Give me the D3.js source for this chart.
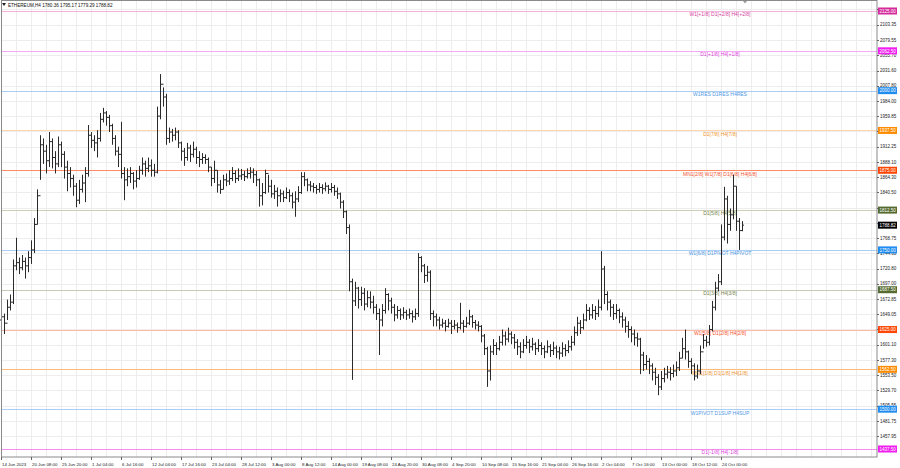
<!DOCTYPE html>
<html><head><meta charset="utf-8">
<script src="https://cdn.jsdelivr.net/npm/d3@7"></script>
<style>body{margin:0;background:#fff;} svg{display:block;font-family:"Liberation Sans",Arial,sans-serif;}</style>
</head><body><svg id="c" width="900" height="468"></svg>
<script>
const symbolTitle = "ETHEREUM,H4  1780.36 1795.17 1779.29 1788.82";
const closes = [
1645,1635,1660,1668,1725,1730,1722,1732,1725,1738,
1750,1790,1835,1915,1905,1890,1920,1895,1885,1915,
1900,1880,1870,1862,1850,1828,1845,1855,1870,1930,
1922,1918,1925,1955,1965,1958,1945,1925,1905,1900,
1870,1860,1865,1870,1858,1862,1875,1885,1878,1882,
1875,1872,1960,2010,1990,1925,1935,1930,1935,1918,
1905,1895,1910,1900,1908,1895,1892,1895,1892,1880,
1862,1875,1852,1845,1860,1858,1862,1870,1862,1866,
1868,1865,1870,1872,1868,1860,1835,1840,1870,1850,
1838,1842,1835,1838,1832,1840,1835,1825,1830,1840,
1865,1860,1852,1850,1848,1845,1848,1846,1850,1845,
1848,1842,1838,1825,1810,1785,1700,1670,1690,1672,
1682,1665,1675,1668,1660,1650,1640,1655,1680,1670,
1660,1648,1655,1648,1652,1648,1650,1645,1650,1738,
1725,1710,1715,1650,1645,1640,1632,1635,1630,1635,
1630,1632,1628,1635,1630,1635,1645,1636,1632,1630,
1615,1595,1560,1590,1600,1595,1605,1615,1610,1618,
1612,1605,1598,1590,1600,1605,1598,1602,1595,1600,
1595,1590,1598,1592,1596,1590,1588,1595,1592,1598,
1605,1620,1635,1628,1640,1655,1648,1655,1650,1660,
1720,1680,1668,1660,1650,1655,1645,1640,1630,1625,
1618,1612,1610,1585,1570,1575,1568,1558,1550,1535,
1548,1555,1558,1556,1560,1565,1580,1595,1590,1575,
1568,1552,1560,1590,1608,1605,1625,1660,1690,1700,
1770,1830,1790,1805,1850,1795,1780.36,1788.82];
const highs = [
1665,1650,1672,1680,1735,1769,1738,1742,1738,1748,
1765,1800,1845,1930,1925,1915,1935,1925,1905,1928,
1920,1905,1890,1880,1868,1855,1860,1868,1880,1946,
1935,1930,1938,1965,1973,1968,1962,1948,1930,1912,
1951,1880,1878,1880,1872,1875,1882,1895,1890,1895,
1892,1885,1975,2026,2005,1995,1942,1940,1942,1938,
1920,1910,1918,1915,1920,1912,1905,1902,1900,1895,
1880,1890,1875,1860,1868,1870,1875,1880,1875,1878,
1877,1874,1878,1880,1878,1874,1862,1855,1876,1868,
1860,1852,1848,1845,1843,1848,1845,1840,1842,1850,
1872,1872,1862,1858,1855,1852,1855,1853,1856,1852,
1855,1852,1848,1840,1828,1812,1790,1705,1700,1692,
1692,1690,1686,1685,1678,1665,1658,1665,1690,1682,
1675,1665,1662,1658,1660,1656,1658,1655,1658,1745,
1740,1728,1725,1718,1655,1650,1645,1642,1640,1642,
1640,1640,1636,1667,1640,1645,1656,1648,1640,1638,
1632,1618,1598,1600,1610,1605,1615,1625,1622,1628,
1622,1618,1610,1605,1610,1615,1610,1612,1605,1610,
1605,1600,1608,1602,1606,1600,1598,1605,1602,1608,
1615,1630,1645,1640,1650,1665,1660,1665,1662,1672,
1748,1725,1685,1672,1665,1665,1658,1652,1645,1638,
1630,1625,1620,1612,1590,1585,1580,1572,1565,1555,
1560,1565,1568,1566,1570,1575,1590,1612,1625,1592,
1580,1572,1570,1600,1618,1615,1632,1670,1700,1712,
1790,1849,1835,1815,1868,1850,1800,1795.17];
const lows = [
1620,1618,1640,1655,1665,1718,1712,1718,1705,1715,
1728,1745,1790,1860,1885,1870,1880,1878,1870,1880,
1880,1862,1842,1848,1835,1817,1822,1840,1825,1865,
1910,1905,1895,1920,1950,1945,1935,1915,1898,1880,
1862,1828,1850,1855,1845,1848,1860,1868,1865,1872,
1865,1865,1870,1955,1975,1915,1918,1920,1922,1910,
1890,1882,1890,1888,1895,1885,1880,1885,1885,1872,
1850,1855,1840,1838,1845,1850,1852,1858,1855,1858,
1860,1858,1862,1862,1855,1850,1818,1820,1838,1840,
1832,1830,1818,1825,1825,1830,1825,1815,1802,1825,
1838,1850,1842,1842,1840,1838,1840,1838,1842,1838,
1840,1835,1830,1815,1800,1775,1685,1546,1662,1658,
1662,1655,1660,1658,1650,1640,1585,1630,1650,1655,
1650,1638,1642,1640,1642,1640,1642,1636,1640,1645,
1715,1698,1700,1640,1630,1630,1625,1628,1622,1628,
1618,1625,1620,1625,1620,1628,1632,1628,1625,1622,
1605,1585,1535,1545,1585,1585,1592,1600,1600,1605,
1602,1595,1585,1580,1588,1595,1588,1592,1585,1590,
1585,1580,1588,1582,1585,1580,1578,1582,1583,1588,
1592,1600,1615,1618,1625,1638,1640,1642,1640,1645,
1655,1665,1655,1645,1640,1642,1635,1628,1620,1612,
1605,1600,1598,1555,1560,1562,1555,1545,1538,1522,
1530,1542,1548,1545,1550,1552,1560,1580,1578,1565,
1555,1545,1548,1555,1595,1598,1600,1622,1655,1685,
1695,1765,1760,1780,1798,1780,1750,1779.29];
const firstOpen = 1640;
const lastOpen = 1780.36;

const dateLabels = ["14 Jun 2023","20 Jun 08:00","25 Jun 20:00","1 Jul 04:00","6 Jul 16:00","12 Jul 04:00","17 Jul 16:00","23 Jul 04:00","28 Jul 12:00","3 Aug 00:00","8 Aug 12:00","14 Aug 00:00","19 Aug 08:00","24 Aug 20:00","30 Aug 08:00","4 Sep 20:00","10 Sep 08:00","15 Sep 16:00","21 Sep 04:00","26 Sep 16:00","2 Oct 04:00","7 Oct 16:00","13 Oct 00:00","18 Oct 12:00","24 Oct 00:00"];
const dateTickIdx = [0,10,20,30,40,50,60,70,80,90,100,110,120,130,140,150,160,170,180,190,200,210,220,230,240];

const priceTicks = [2127.55,2103.35,2079.55,2055.70,2031.60,2007.80,1984.00,1959.85,1936.05,1912.25,1888.10,1864.30,1840.50,1816.35,1792.55,1768.75,1744.60,1720.80,1697.00,1672.85,1649.05,1625.25,1601.10,1577.30,1553.50,1529.70,1505.55,1481.75,1457.95];

const levels = [2125, 2062.5, 2000, 1937.5, 1875, 1812.5, 1750, 1687.5, 1625, 1562.5, 1500, 1437.5];
const levelNames = ["W1[+1/8] D1[+2/8] H4[+2/8]","D1[+1/8] H4[+1/8]","W1RES D1RES H4RES","D1[7/8] H4[7/8]","MN1[2/8] W1[7/8] D1[6/8] H4[6/8]","D1[5/8] H4[5/8]","W1[6/8] D1PIVOT H4PIVOT","D1[3/8] H4[3/8]","W1[5/8] D1[2/8] H4[2/8]","MN1[1/8] D1[1/8] H4[1/8]","W1PIVOT D1SUP H4SUP","D1[-1/8] H4[-1/8]"];
const levelBox = ["#d42a9c","#f01ef0","#1e8cf0","#ff8c00","#ff4500","#556b2f","#1e8cf0","#556b2f","#ff4500","#ff8c00","#1e8cf0","#f01ef0"];
const levelLine = ["#f6b2de","#f6a6f6","#a9cdf4","#ffd6ae","#ff8a66","#cdd0b6","#a9cdf4","#c9c9b9","#ffb9a8","#ffbc78","#a9cdf4","#f48cf0"];
const levelText = ["#d43f9e","#e040e0","#4f98e6","#f0922a","#f5522e","#76854c","#4f98e6","#76854c","#f5522e","#f0922a","#4f98e6","#e040e0"];
const lastPrice = 1788.82;

const svg = d3.select("#c");
const W = 900, H = 468, plotR = 877, plotB = 457;
const x = d3.scaleLinear().domain([0, 292]).range([1, 877]);
const y = d3.scaleLinear().domain([1437.5, 2125]).range([449, 11]);
const N = Math.min(closes.length, highs.length, lows.length);
const crisp = v => Math.round(v) + 0.5;
const fmt = d3.format(".2f");
const axisFont = 4.5;

svg.append("rect").attr("width", W).attr("height", H).attr("fill", "#fff");

// grid
const g = svg.append("g");
g.selectAll(".vg").data(d3.range(0, 292, 5)).join("line")
  .attr("x1", d => crisp(x(d))).attr("x2", d => crisp(x(d)))
  .attr("y1", 0).attr("y2", plotB).attr("stroke", "#ededed").attr("stroke-width", 1);
g.selectAll(".hg").data(priceTicks).join("line")
  .attr("x1", 1).attr("x2", plotR).attr("y1", d => crisp(y(d))).attr("y2", d => crisp(y(d)))
  .attr("stroke", "#ededed").attr("stroke-width", 1);

// level lines
svg.append("g").selectAll("line").data(levels).join("line")
  .attr("x1", 1).attr("x2", plotR)
  .attr("y1", d => crisp(y(d))).attr("y2", d => crisp(y(d)))
  .attr("stroke", (d, i) => levelLine[i]).attr("stroke-width", 1.2);

// level names
svg.append("g").selectAll("text").data(levels).join("text")
  .attr("x", 720).attr("y", d => y(d) + 5.4)
  .attr("text-anchor", "middle").attr("font-size", 5.0)
  .attr("fill", (d, i) => levelText[i]).text((d, i) => levelNames[i]);

// bars
const bars = svg.append("g").attr("stroke", "#2a2a2a").attr("stroke-width", 1).attr("fill", "none");
const idx = d3.range(N);
const openOf = i => i === 0 ? firstOpen : (i === N - 1 ? lastOpen : closes[i - 1]);
bars.selectAll(".hl").data(idx).join("line")
  .attr("x1", i => crisp(x(i))).attr("x2", i => crisp(x(i)))
  .attr("y1", i => y(highs[i])).attr("y2", i => y(lows[i]));
bars.selectAll(".op").data(idx).join("line")
  .attr("x1", i => crisp(x(i)) - 1.5).attr("x2", i => crisp(x(i)))
  .attr("y1", i => y(openOf(i))).attr("y2", i => y(openOf(i)));
bars.selectAll(".cl").data(idx).join("line")
  .attr("x1", i => crisp(x(i))).attr("x2", i => crisp(x(i)) + 1.5)
  .attr("y1", i => y(closes[i])).attr("y2", i => y(closes[i]));

// axis area background
svg.append("rect").attr("x", plotR).attr("y", 0).attr("width", W - plotR).attr("height", H).attr("fill", "#fff");
svg.append("rect").attr("x", 0).attr("y", plotB).attr("width", W).attr("height", H - plotB).attr("fill", "#fff");

// frame
svg.append("rect").attr("x", 1.5).attr("y", 0.5).attr("width", plotR - 1.5).attr("height", plotB - 0.5)
  .attr("fill", "none").attr("stroke", "#8a8a8a").attr("stroke-width", 1);

// price axis ticks (labels fully covered by a level box are not drawn)
const boxed = levels.concat([lastPrice]);
const visibleTicks = priceTicks.filter(t => !boxed.some(b => Math.abs(y(b) - y(t)) < 3));
const pa = svg.append("g");
pa.selectAll("line").data(priceTicks).join("line")
  .attr("x1", plotR).attr("x2", plotR + 2).attr("y1", d => crisp(y(d))).attr("y2", d => crisp(y(d)))
  .attr("stroke", "#666");
pa.selectAll("text").data(visibleTicks).join("text")
  .attr("x", 880).attr("y", d => y(d) + 1.7).attr("font-size", axisFont).attr("fill", "#222")
  .text(d => fmt(d));

// level boxes
const lb = svg.append("g");
lb.selectAll("rect").data(levels).join("rect")
  .attr("x", 878).attr("y", d => y(d) - 3.5).attr("width", 19).attr("height", 7)
  .attr("fill", (d, i) => levelBox[i]);
lb.selectAll("text").data(levels).join("text")
  .attr("x", 879.5).attr("y", d => y(d) + 1.7).attr("font-size", axisFont).attr("fill", "#fff")
  .text(d => fmt(d));
// last price box
svg.append("rect").attr("x", 878).attr("y", y(lastPrice) - 3.5).attr("width", 19).attr("height", 7).attr("fill", "#000");
svg.append("text").attr("x", 879.5).attr("y", y(lastPrice) + 1.7).attr("font-size", axisFont).attr("fill", "#fff").text(fmt(lastPrice));

// date axis
const da = svg.append("g");
da.selectAll("line").data(dateTickIdx).join("line")
  .attr("x1", i => crisp(x(i))).attr("x2", i => crisp(x(i))).attr("y1", plotB).attr("y2", plotB + 3)
  .attr("stroke", "#666");
da.selectAll("text").data(dateTickIdx).join("text")
  .attr("x", i => x(i) + 1).attr("y", 465.5).attr("font-size", 4.4).attr("fill", "#222")
  .text((d, k) => dateLabels[k]);

// title
svg.append("path").attr("d", "M2,3 L6,3 L4,6 Z").attr("fill", "#222");
svg.append("text").attr("x", 8).attr("y", 7).attr("font-size", 4.6).attr("fill", "#111").text(symbolTitle);
// shift marker
svg.append("path").attr("d", `M${x(248)-2},1 L${x(248)+2},1 L${x(248)},3.5 Z`).attr("fill", "#999");
</script></body></html>
